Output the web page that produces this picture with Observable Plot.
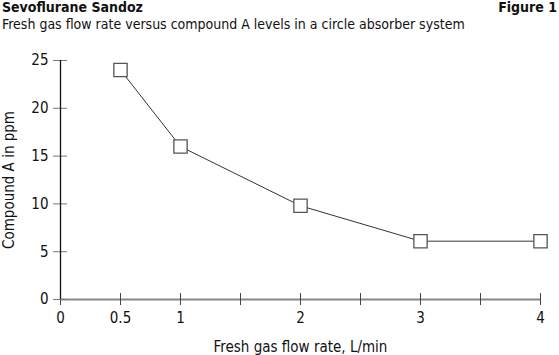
<!DOCTYPE html>
<html><head><meta charset="utf-8">
<script src="https://cdn.jsdelivr.net/npm/d3@7"></script>
<script src="https://cdn.jsdelivr.net/npm/@observablehq/plot@0.6"></script>
<style>
body{margin:0;background:#fff;font-family:"Liberation Sans Narrow","DejaVu Sans Condensed",sans-serif;}
#hdr{position:relative;height:40px;width:559px;color:#111;}
#t{position:absolute;left:2px;top:-1px;font-weight:bold;font-size:14px;}
#f{position:absolute;right:2px;top:-1px;font-weight:bold;font-size:14px;}
#s{position:absolute;left:2px;top:16px;font-size:14px;}
</style></head><body>
<div id="hdr"><div id="t">Sevoflurane Sandoz</div><div id="f">Figure 1</div><div id="s">Fresh gas flow rate versus compound A levels in a circle absorber system</div></div>
<div id="chart"></div>
<script>
const flowRate = [0.5, 1, 2, 3, 4];
const compoundA = [24, 16, 9.8, 6.1, 6.1];
const xTicks = [0, 0.5, 1, 1.5, 2, 2.5, 3, 3.5, 4];
const xTickLabels = ["0", "0.5", "1", "", "2", "", "3", "", "4"];
const yTicks = [0, 5, 10, 15, 20, 25];
const data = flowRate.map((x, i) => ({x, y: compoundA[i]}));
const font = '"Liberation Sans Narrow","DejaVu Sans Condensed",sans-serif';
const chart = Plot.plot({
  width: 559, height: 315,
  marginTop: 20, marginBottom: 56, marginLeft: 60, marginRight: 19,
  style: {fontFamily: font, fontSize: "15px", color: "#111", background: "#fff"},
  x: {domain: [0, 4]},
  y: {domain: [0, 25]},
  marks: [
    Plot.ruleY([0], {stroke: "#888", strokeWidth: 2}),
    Plot.ruleX(xTicks, {x: d => d, y1: 0, y2: 0, insetTop: -6, insetBottom: -6, stroke: "#444", strokeWidth: 1}),
    Plot.ruleY(yTicks, {y: d => d, x1: 0, x2: 0, insetLeft: -7, insetRight: -7, stroke: "#777", strokeWidth: 1}),
    Plot.ruleX([0], {y1: 0, y2: 25, stroke: "#111", strokeWidth: 1.3}),
    Plot.axisX({ticks: xTicks, tickSize: 0, tickPadding: 13, tickFormat: (d) => xTickLabels[xTicks.indexOf(d)], fontSize: 15, label: null}),
    Plot.axisX({ticks: [], label: "Fresh gas flow rate, L/min", labelAnchor: "center", labelOffset: 52, labelArrow: "none", dx: -8, fontSize: 15}),
    Plot.axisY({ticks: yTicks, tickSize: 0, tickPadding: 12, fontSize: 15,
      label: "Compound A in ppm", labelAnchor: "center", labelOffset: 57, labelArrow: "none"}),
    Plot.line(data, {x: "x", y: "y", stroke: "#333", strokeWidth: 1}),
    Plot.dot(data, {x: "x", y: "y", symbol: "square", r: 7.5, fill: "#fff", stroke: "#555", strokeWidth: 1.3})
  ]
});
document.getElementById("chart").appendChild(chart);
</script>
</body></html>
